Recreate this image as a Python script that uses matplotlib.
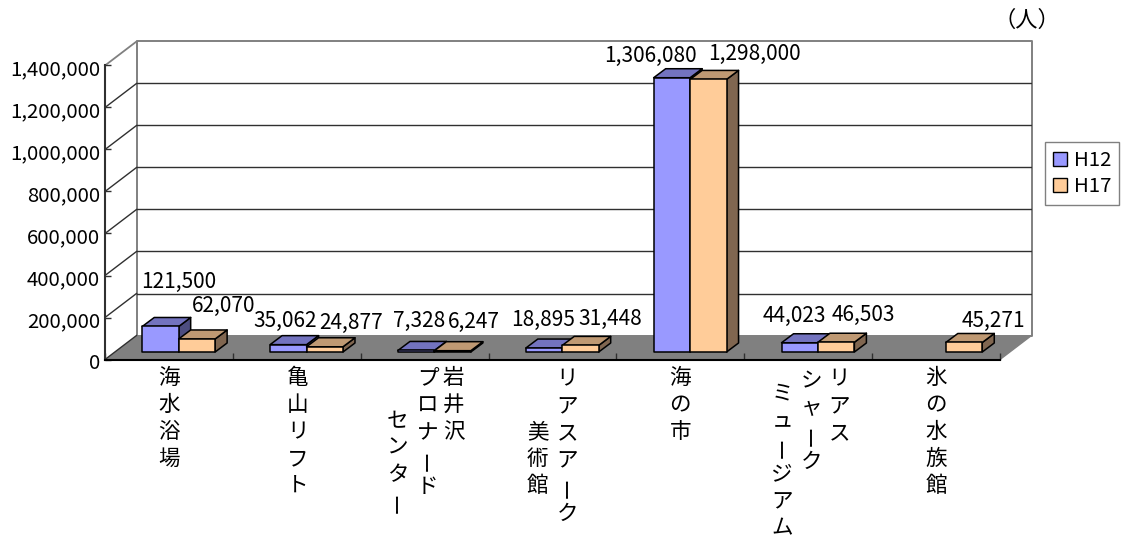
#!/usr/bin/env python3
# -*- coding: utf-8 -*-
import matplotlib
matplotlib.use('Agg')
import matplotlib.pyplot as plt
from matplotlib.patches import Patch
from matplotlib.transforms import ScaledTranslation

plt.rcParams['font.family'] = ['Noto Sans CJK JP', 'DejaVu Sans']

# datos
categorias = [
    ['海水浴場'],
    ['亀山リフト'],
    ['岩井沢', 'プロナード', 'センター'],
    ['リアスアーク', '美術館'],
    ['海の市'],
    ['リアス', 'シャーク', 'ミュージアム'],
    ['氷の水族館'],
]
h12 = [121500, 35062, 7328, 18895, 1306080, 44023, None]
h17 = [62070, 24877, 6247, 31448, 1298000, 46503, 45271]
series = ['H12', 'H17']
yticks = [0, 200000, 400000, 600000, 800000, 1000000, 1200000, 1400000]

# layout in pixels of the 1123x537 picture
W, H = 1123, 537
x0, x1 = 105, 1000      # front of the floor
y0, y1 = 359.5, 65.5    # front of value axis
dx_px, dy_px = 31.5, 24.0
dx = dx_px / ((x1 - x0) / 7)
dy = dy_px * 1400000 / (y0 - y1)
bar_w = 0.285
bar_dx = dx * 12 / 31.5
bar_dy = dy * 9 / 24

# (px right, px up) from the top front centre of each bar to its label
off12 = [(18, 45), (-3, 24), (3, 30), (-1, 28), (-21, 22), (-5, 27), None]
off17 = [(27, 33), (26, 24), (21, 29), (30, 26), (46, 25), (27, 27), (29, 22)]
# column x (px from the category centre) and first character y (px)
col_x = [[0], [1], [29, 3, -27], [15, -15], [0], [31, 3, -26], [0]]
col_y = [[378], [378], [378, 379, 421], [379, 432], [378], [379, 381, 393], [378]]
paso = 27.0

fig = plt.figure(figsize=(W / 100, H / 100), dpi=100)
ax = fig.add_axes([x0 / W, 1 - y0 / H, (x1 + dx_px - x0) / W, (y0 - y1 + dy_px) / H])
ax.set_xlim(0, 7 + dx)
ax.set_ylim(0, 1400000 + dy)
for s in ax.spines.values():
    s.set_visible(False)
ax.patch.set_visible(False)

# floor, walls and grid
ax.fill([0, 7, 7 + dx, dx], [0, 0, dy, dy], color='#808080', lw=0, zorder=1, clip_on=False)
ax.plot([dx, dx, 7 + dx, 7 + dx, dx], [dy, 1400000 + dy, 1400000 + dy, dy, dy],
        color='#808080', lw=1.4, zorder=1, clip_on=False)
ax.plot([7, 7 + dx], [0, dy], color='#808080', lw=1, zorder=1, clip_on=False)
for v in yticks[1:]:
    if v < 1400000:
        ax.plot([0, dx], [v, v + dy], color='#303030', lw=1, zorder=1, clip_on=False)
        ax.plot([dx, 7 + dx], [v + dy, v + dy], color='#303030', lw=1, zorder=1)
    else:
        ax.plot([0, dx], [v, v + dy], color='#808080', lw=1.3, zorder=1, clip_on=False)
ax.plot([0, dx], [0, dy], color='#303030', lw=1, zorder=1)
ax.plot([0, 0], [0, 1400000], color='#303030', lw=1.5, zorder=2, clip_on=False)
ax.plot([0, 7], [0, 0], color='black', lw=1.5, zorder=2, clip_on=False)

ax.set_yticks(yticks)
ax.set_yticklabels(['{:,}'.format(v) for v in yticks], fontsize=14.7)
ax.set_xticks(range(8))
ax.set_xticklabels([])
ax.tick_params(axis='y', direction='in', length=4, width=1, pad=3.5, color='#303030')
ax.tick_params(axis='x', direction='in', length=5, width=1, color='#303030')
bajar = ScaledTranslation(0, -1.5 / 100, fig.dpi_scale_trans)
for t in ax.get_yticklabels():
    t.set_transform(t.get_transform() + bajar)


def barra(izq, valor, frente, arriba, lado, orden):
    der = izq + bar_w
    base = (dy - bar_dy) / 2
    px = (dx - bar_dx) / 2
    izq, der = izq + px, der + px
    top = base + valor
    kw = dict(edgecolor='black', lw=1.1, zorder=orden, joinstyle='round')
    ax.fill([der, der + bar_dx, der + bar_dx, der],
            [base, base + bar_dy, top + bar_dy, top], facecolor=lado, **kw)
    ax.fill([izq, der, der + bar_dx, izq + bar_dx],
            [top, top, top + bar_dy, top + bar_dy], facecolor=arriba, **kw)
    ax.fill([izq, der, der, izq], [base, base, top, top], facecolor=frente, **kw)
    return (izq + der) / 2, top


estilos = [('#9999FF', '#7373BF', '#4D4D80'), ('#FFCC99', '#BF9973', '#806650')]
for k in range(7):
    centro = k + 0.5
    for j, (vals, offs) in enumerate([(h12, off12), (h17, off17)]):
        if vals[k] is None:
            continue
        izq = centro - bar_w + j * bar_w
        xm, ym = barra(izq, vals[k], *estilos[j], 3 + k + j * 0.5)
        ax.annotate('{:,}'.format(vals[k]), (xm, ym),
                    xytext=(offs[k][0] * 0.72, offs[k][1] * 0.72), textcoords='offset points',
                    ha='center', va='center', fontsize=15, zorder=20, annotation_clip=False)

    # vertical category labels, one character at a time
    for col, cx, cy in zip(categorias[k], col_x[k], col_y[k]):
        for n, ch in enumerate(col):
            ax.annotate(ch, (centro, 0), xycoords='data',
                        xytext=(cx * 0.72, -(cy + n * paso - y0) * 0.72), textcoords='offset points',
                        ha='center', va='center', fontsize=15.5,
                        rotation=90 if ch == 'ー' else 0, annotation_clip=False)

fig.text(1027 / W, 1 - 20 / H, '（人）', ha='center', va='center', fontsize=16)

handles = [Patch(facecolor=estilos[i][0], edgecolor='black', label=series[i]) for i in range(2)]
ax.legend(handles=handles, loc='upper left', bbox_to_anchor=(1045 / W, 1 - 142 / H),
          bbox_transform=fig.transFigure, fontsize=14.7, fancybox=False, framealpha=1,
          edgecolor='#808080', handlelength=0.68, handleheight=0.68, handletextpad=0.35,
          labelspacing=0.28, borderpad=0.38, borderaxespad=0)

plt.savefig('out.png', dpi=100)
